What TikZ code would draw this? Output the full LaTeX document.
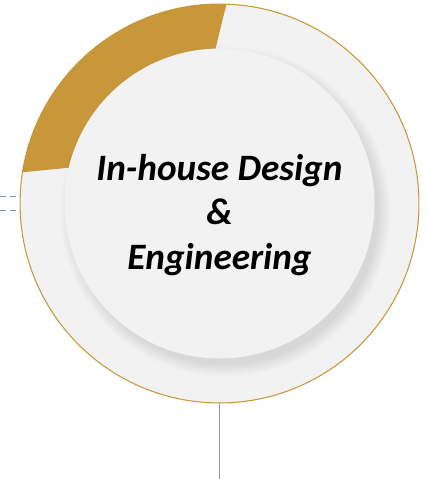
\documentclass[tikz,border=0pt]{standalone}
\usepackage{fontspec}
\newfontfamily\calibri{Carlito}
\usetikzlibrary{calc}
\definecolor{gold}{HTML}{C8973A}
\definecolor{disc}{HTML}{F2F2F2}
\definecolor{slate}{HTML}{8496B0}
\tikzset{ring/.style={circle,draw=gold,line width=0.6pt,fill=disc,minimum size=#1,inner sep=0pt,outer sep=0pt},ring/.default=7.98cm}
\tikzset{leadline/.style={color=slate,line width=0.7pt}}

\begin{document}
\begin{tikzpicture}[x=0.02cm,y=0.02cm]
	\useasboundingbox (0,0) rectangle (428,479);
	\coordinate (edge) at (0,0);
	\coordinate (foot) at (219.5,0);
	\node [ring] (outer) at (219.5,275.5) {};

	% faixa dourada
	\fill [gold] ($(outer.center)+(88:199.5)$) arc[start angle=88,end angle=171,radius=199.5]
		-- ($(outer.center)+(166:150)$) arc[start angle=166,end angle=92,radius=150] -- cycle;

	% sombra
	\foreach \k in {0,...,12}
		\fill [black,opacity=0.006] ($(outer.center)+(6,-8)$) circle (153+\k);
	\node [ring,draw=none,minimum size=6.2cm] (inner) at (outer.center) {};

	\node [font=\calibri\bfseries\itshape\fontsize{21.2}{25.5}\selectfont,align=center]
		(title) at ($(inner.center)+(0,-11.5)$) {In-house Design\\\&\\Engineering};

	% linhas de ligação
	\draw [leadline] (outer.south) -- (foot);
	\draw [leadline,dash pattern=on 3.4pt off 2.3pt] (outer.178 -| edge) -- (outer.178);
	\draw [leadline,dash pattern=on 3.4pt off 2.3pt] (outer.182 -| edge) -- (outer.182);
\end{tikzpicture}
\end{document}
